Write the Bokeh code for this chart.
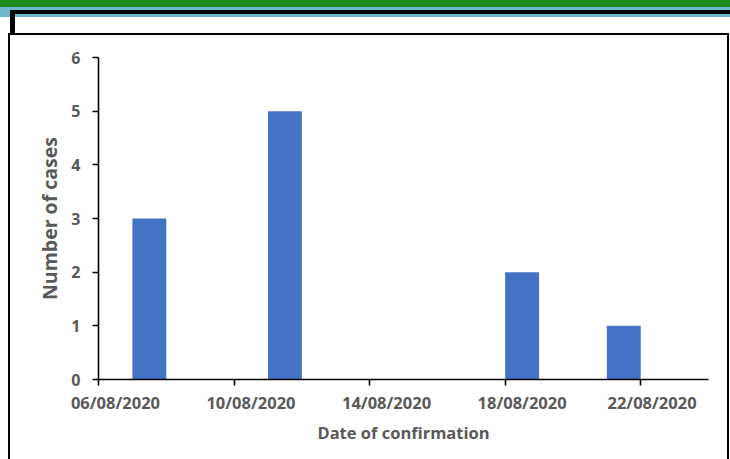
from datetime import datetime, timedelta

from bokeh.embed import file_html
from bokeh.layouts import column
from bokeh.models import (ColumnDataSource, CustomLabelingPolicy, DatetimeAxis,
                          DatetimeTickFormatter, Div, FixedTicker, Range1d)
from bokeh.plotting import figure
from bokeh.resources import INLINE

# Confirmed cases per day
dates = ["07/08/2020", "11/08/2020", "18/08/2020", "21/08/2020"]
cases = [3, 5, 2, 1]

# Axis ticks
x_tick_labels = ["06/08/2020", "10/08/2020", "14/08/2020", "18/08/2020", "22/08/2020"]
x_start, x_end = "06/08/2020", "24/08/2020"
y_ticks = [0, 1, 2, 3, 4, 5, 6]

FMT = "%d/%m/%Y"
EPOCH = datetime(1970, 1, 1)
DAY = timedelta(days=1)


def to_ms(d):
    return (d - EPOCH).total_seconds() * 1000.0


day_dates = [datetime.strptime(d, FMT) for d in dates]
tick_dates = [datetime.strptime(t, FMT) for t in x_tick_labels]
source = ColumnDataSource(dict(
    x=[d + DAY / 2 for d in day_dates],
    top=cases,
))

p = figure(
    width=717, height=424,
    x_axis_type="datetime",
    x_range=Range1d(datetime.strptime(x_start, FMT), datetime.strptime(x_end, FMT)),
    y_range=Range1d(0, 6),
    output_backend="svg", toolbar_location=None,
    min_border_left=88, min_border_right=19, min_border_top=22, min_border_bottom=80,
    margin=(0, 0, 0, 10),
    styles={"box-shadow": "-2px 0 0 #000, 2px 0 0 #000, 0 -2px 0 #000, "
                          "-2px -2px 0 #000, 2px -2px 0 #000"},
)
p.outline_line_color = None
p.xgrid.visible = False
p.ygrid.visible = False
p.background_fill_color = "white"
p.border_fill_color = "white"

p.vbar(x="x", top="top", width=DAY.total_seconds() * 1000.0, source=source,
       fill_color="#4472C4", line_color=None)

label_color = "#595959"
font = "Open Sans"
date_fmt = DatetimeTickFormatter(
    milliseconds=FMT, seconds=FMT, minsec=FMT, minutes=FMT, hourmin=FMT,
    hours=FMT, days=FMT, months=FMT, years=FMT,
)


def style_axis(ax):
    ax.axis_line_color = "black"
    ax.axis_line_width = 1.6
    ax.major_tick_line_color = "black"
    ax.major_tick_line_width = 1.6
    ax.major_tick_out = 6
    ax.major_tick_in = 0
    ax.minor_tick_line_color = None
    ax.major_label_text_font = font
    ax.major_label_text_font_style = "bold"
    ax.major_label_text_color = label_color
    ax.major_label_text_font_size = "16px"
    ax.axis_label_text_font = font
    ax.axis_label_text_font_style = "bold"
    ax.axis_label_text_color = label_color


# Date axis: line and tick marks at the start of each labelled day, no labels
xa = p.xaxis[0]
style_axis(xa)
xa.ticker = FixedTicker(ticks=[to_ms(d) for d in tick_dates])
xa.formatter = date_fmt
xa.major_label_standoff = 0
xa.major_label_text_font_size = "1px"
xa.major_label_policy = CustomLabelingPolicy(code="""
    const all = [...indices]
    for (const i of all) indices.unset(i)
    return indices
""")

# Date labels centred on their day
xl = DatetimeAxis()
style_axis(xl)
xl.ticker = FixedTicker(ticks=[to_ms(d + DAY / 2) for d in tick_dates[:-1]]
                        + [to_ms(tick_dates[-1] + DAY / 3)])
xl.formatter = date_fmt
xl.axis_line_color = None
xl.major_tick_line_color = None
xl.major_tick_out = 0
xl.major_label_standoff = 1
xl.major_label_text_font_size = "16.5px"
xl.axis_label = "Date of confirmation"
xl.axis_label_text_font_size = "16.5px"
xl.axis_label_standoff = 4
p.add_layout(xl, "below")

ya = p.yaxis[0]
style_axis(ya)
ya.ticker = FixedTicker(ticks=y_ticks)
ya.major_label_standoff = 12
ya.axis_label = "Number of cases"
ya.axis_label_text_font_size = "19.5px"
ya.axis_label_standoff = 5

# Page header: green and teal bands with a black rule
header_html = """
<div style="position:relative;width:730px;height:35px;overflow:hidden;">
  <div style="position:absolute;left:0;top:0;width:730px;height:7px;background:#1E8A1A;"></div>
  <div style="position:absolute;left:0;top:7px;width:730px;height:10px;background:#6DB6CB;"></div>
  <div style="position:absolute;left:10px;top:10px;width:720px;height:4px;background:#050505;"></div>
  <div style="position:absolute;left:10px;top:10px;width:5px;height:24px;background:#050505;"></div>
</div>
"""
header = Div(text=header_html, width=730, height=35, margin=0)

layout = column(header, p, spacing=0, margin=0)

open("out.html", "w").write(file_html(layout, INLINE))
